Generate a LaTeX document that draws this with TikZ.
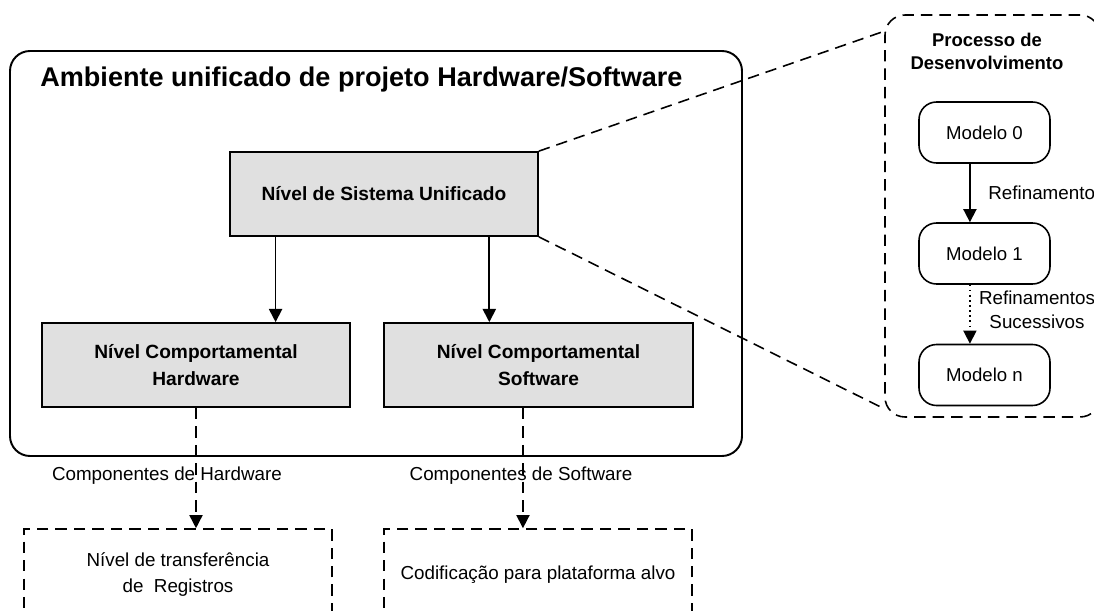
\documentclass[tikz,border=0pt]{standalone}
\usepackage{fontspec}
\setmainfont{Liberation Sans}
\usepackage{tikz}
\usetikzlibrary{calc,arrows.meta}
\definecolor{boxgray}{RGB}{224,224,224}
\tikzset{
	graybox/.style={draw, line width=1pt, fill=boxgray, minimum width=6.16cm, minimum height=1.68cm, align=center, font=\fontsize{10.9}{15}\selectfont\bfseries},
	dashbox/.style={draw, line width=0.9pt, dash pattern=on 6.5pt off 4pt, minimum width=6.16cm, minimum height=1.82cm, align=center, font=\fontsize{10.7}{14.7}\selectfont},
	modelbox/.style={draw, line width=0.9pt, rounded corners=0.35cm, minimum width=2.62cm, minimum height=1.22cm, font=\fontsize{10.6}{13}\selectfont},
	lbl/.style={font=\fontsize{10.7}{13.6}\selectfont, inner sep=0pt},
	tip/.style={-{Triangle[length=7.5pt,width=7.5pt]}},
	proj/.style={line width=0.9pt, dash pattern=on 6.5pt off 4pt},
}
\begin{document}
\begin{tikzpicture}
		%%%%% START %%%%%
		\useasboundingbox (0, 0) rectangle (21.88, 12.2);
		\clip (0, 0) rectangle (21.88, 12.2);
		
		% unified environment
		\draw[line width=1.1pt, rounded corners=0.4cm] (0.2, 3.08) rectangle (14.84, 11.18);
		\node[anchor=base west, inner sep=0pt, font=\fontsize{15.4}{18}\selectfont\bfseries] (title) at (0.8, 10.46) {Ambiente unificado de projeto Hardware/Software};
		
		\node[graybox] (sys) at (7.68, 8.32) {N\'ivel de Sistema Unificado};
		\node[graybox] (hw) at (3.92, 4.9) {N\'ivel Comportamental\\Hardware};
		\node[graybox, minimum width=6.18cm] (sw) at (10.77, 4.9) {N\'ivel Comportamental\\Software};
		
		\coordinate (hwsplit) at ($(sys.south west)!0.15!(sys.south east)$);
		\coordinate (swsplit) at ($(sys.south west)!0.84!(sys.south east)$);
		\draw[line width=1pt, tip] (hwsplit) -- (hwsplit |- hw.north);
		\draw[line width=1pt, tip] (swsplit) -- (swsplit |- sw.north);
		
		% lower levels
		\node[dashbox] (rtl) at (3.56, 0.71) {N\'ivel de transfer\^encia\\de~ Registros};
		\node[dashbox] (cod) at (10.76, 0.71) {Codifica\c{c}\~ao para plataforma alvo};
		
		\coordinate (swdrop) at ($(sw.south west)!0.45!(sw.south east)$);
		\draw[proj, tip] (hw.south) -- (hw.south |- rtl.north);
		\draw[proj, tip] (swdrop) -- (swdrop |- cod.north);
		\node[lbl] (hwcomp) at (3.34, 2.68) {Componentes de Hardware};
		\node[lbl] (swcomp) at (10.42, 2.68) {Componentes de Software};
		
		% development process
		\node[draw, proj, rounded corners=0.4cm, minimum width=4.3cm, minimum height=8.04cm] (proc) at (19.85, 7.88) {};
		\node[align=center, inner sep=0pt, font=\fontsize{10.5}{13}\selectfont\bfseries] (proctitle) at (19.74, 11.17) {Processo de\\Desenvolvimento};
		
		\node[modelbox] (m0) at (19.69, 9.55) {Modelo 0};
		\node[modelbox] (m1) at (19.69, 7.13) {Modelo 1};
		\node[modelbox] (mn) at (19.69, 4.7) {Modelo n};
		
		\coordinate (refx) at ($(m0.south west)!0.39!(m0.south east)$);
		\draw[line width=1pt, tip] (refx) -- (refx |- m1.north);
		\draw[line width=0.9pt, dotted, tip] (refx |- m1.south) -- (refx |- mn.north);
		\node[lbl, anchor=west] (ref1) at (19.76, 8.34) {Refinamento};
		\node[lbl, align=center] (refn) at (20.74, 6.0) {Refinamentos\\Sucessivos};
		
		% projection lines
		\draw[proj] (sys.north east) -- ($(proc.north west)+(0, -0.34)$);
		\draw[proj] (sys.south east) -- ($(proc.south west)+(0, 0.18)$);
		%%%%% END %%%%%
	\end{tikzpicture}
\end{document}
